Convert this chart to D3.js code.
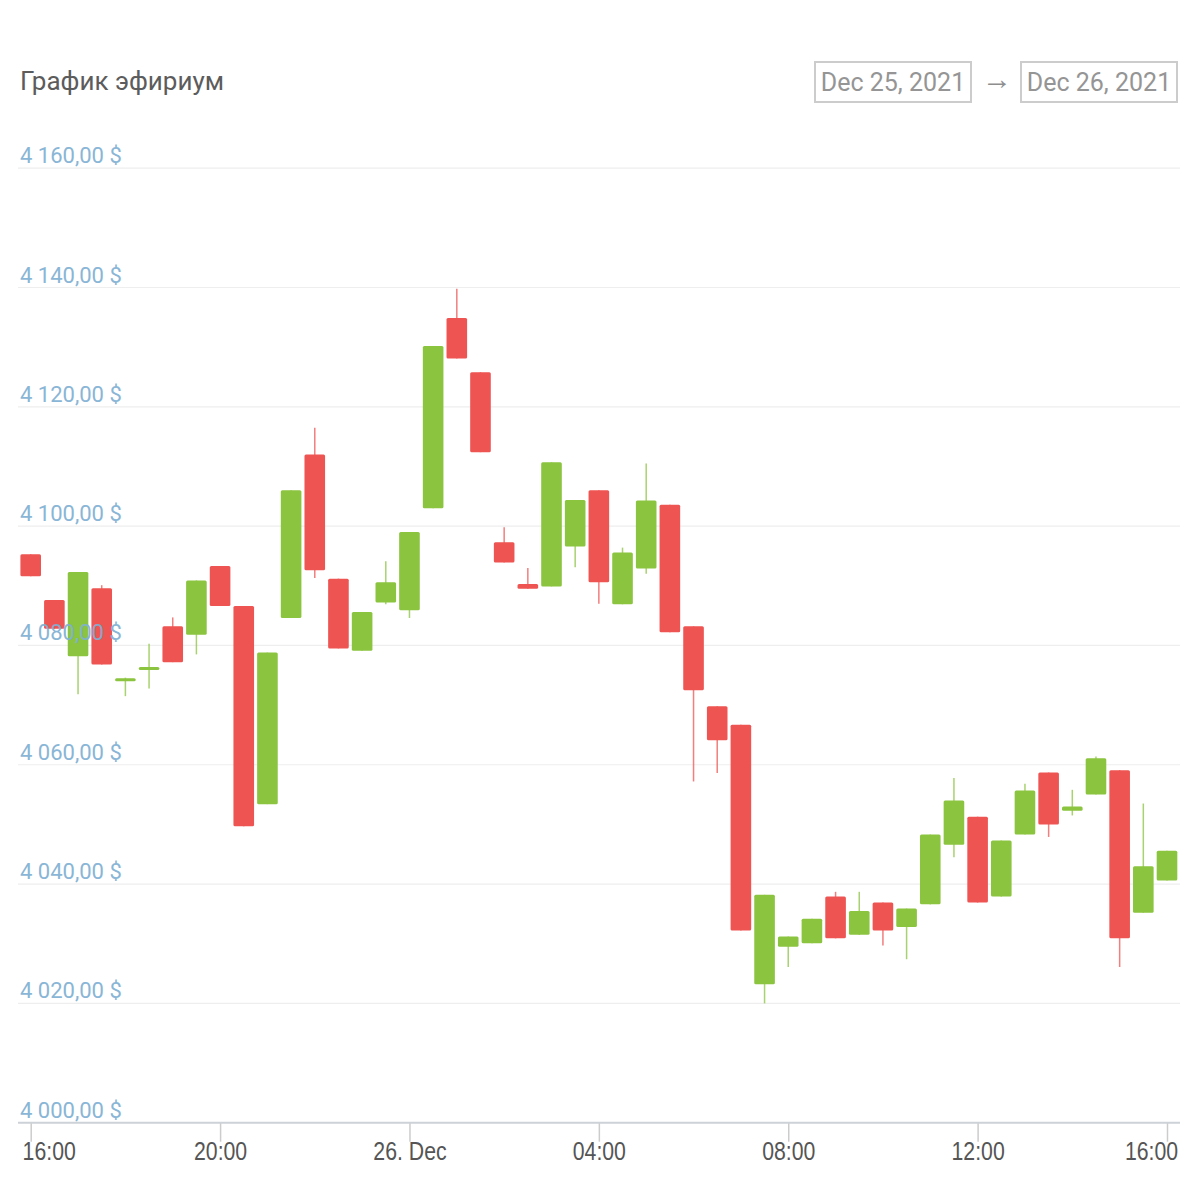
<!DOCTYPE html>
<html>
<head>
<meta charset="utf-8">
<script src="https://cdn.jsdelivr.net/npm/d3@7"></script>
<style>
  html, body { margin: 0; padding: 0; background: #ffffff; }
  svg { display: block; font-family: Roboto, "Noto Sans", sans-serif; }
</style>
</head>
<body>
<svg id="chart" width="1200" height="1200"></svg>
<script>
// ---- data (30-minute candles, Dec 25 16:00 -> Dec 26 16:00), prices in USD ----
const openVals  = [4095.3,4087.6,4078.2,4089.6,4074.0,4075.9,4083.2,4081.8,4093.3,4086.6,
                   4053.4,4084.6,4112.0,4091.2,4079.1,4087.2,4085.9,4103.0,4134.9,4125.8,
                   4097.3,4090.3,4089.9,4096.6,4106.0,4086.9,4092.9,4103.6,4083.2,4069.8,
                   4066.7,4023.2,4029.5,4030.1,4037.9,4031.5,4036.9,4032.8,4036.6,4046.6,
                   4051.3,4037.9,4048.3,4058.7,4052.3,4055.0,4059.1,4035.2,4040.6];
const closeVals = [4091.6,4082.8,4092.3,4076.8,4074.5,4076.4,4077.2,4090.9,4086.6,4049.7,
                   4078.8,4106.0,4092.6,4079.5,4085.6,4090.6,4099.0,4130.2,4128.1,4112.4,
                   4093.9,4089.5,4110.7,4104.4,4090.6,4095.6,4104.3,4082.2,4072.5,4064.1,
                   4032.2,4038.2,4031.2,4034.2,4030.9,4035.5,4032.2,4035.9,4048.3,4054.0,
                   4036.9,4047.3,4055.7,4050.0,4053.0,4061.1,4030.9,4043.0,4045.6];
const highVals  = [4095.3,4087.6,4092.3,4090.1,4074.6,4080.3,4084.7,4090.9,4093.3,4086.6,
                   4078.8,4106.0,4116.5,4091.2,4085.6,4094.1,4099.0,4130.2,4139.8,4125.8,
                   4099.8,4093.0,4110.7,4104.4,4106.0,4096.4,4110.5,4103.6,4083.2,4069.8,
                   4066.7,4038.2,4031.2,4034.2,4038.7,4038.7,4036.9,4035.9,4048.3,4057.8,
                   4051.3,4047.3,4056.8,4058.7,4055.8,4061.4,4059.1,4053.5,4045.6];
const lowVals   = [4091.6,4082.8,4071.8,4076.8,4071.5,4072.8,4077.2,4078.5,4086.6,4049.7,
                   4053.4,4084.6,4091.3,4079.5,4079.1,4086.9,4084.6,4103.0,4128.1,4112.4,
                   4093.9,4089.5,4089.9,4093.1,4087.0,4086.9,4092.0,4082.2,4057.2,4058.6,
                   4032.2,4020.0,4026.1,4030.1,4030.9,4031.5,4029.7,4027.4,4036.6,4044.5,
                   4036.9,4037.9,4048.3,4047.9,4051.5,4055.0,4026.1,4035.2,4040.6];

const yTickValues = [4000, 4020, 4040, 4060, 4080, 4100, 4120, 4140, 4160];
const yTickLabels = ["4 000,00 $","4 020,00 $","4 040,00 $","4 060,00 $","4 080,00 $",
                     "4 100,00 $","4 120,00 $","4 140,00 $","4 160,00 $"];
const xTickHours  = [0, 4, 8, 12, 16, 20, 24];   // hours after Dec 25 16:00
const xTickLabels = ["16:00","20:00","26. Dec","04:00","08:00","12:00","16:00"];
const titleText = "График эфириум";
const dateFrom = "Dec 25, 2021";
const dateTo = "Dec 26, 2021";

// ---- layout ----
const svg = d3.select("#chart");
const start = new Date(2021, 11, 25, 16, 0);
const end = new Date(2021, 11, 26, 16, 0);
const x = d3.scaleTime().domain([start, end]).range([30.7, 1167]);
const y = d3.scaleLinear().domain([4000, 4160]).range([1122.7, 168.2]);
const times = openVals.map((_, i) => new Date(start.getTime() + i * 30 * 60000));
const candles = times.map((t, i) => ({t, o: openVals[i], c: closeVals[i], h: highVals[i], l: lowVals[i]}));
const RED = "#EE5452", GREEN = "#8BC43F";
const bw = 20.6;

// title
svg.append("text").attr("x", 20).attr("y", 90)
  .attr("font-size", 26).attr("fill", "#5c5c5c").text(titleText);

// date boxes
const boxes = [{x0: 815, x1: 971, t: dateFrom}, {x0: 1021, x1: 1177, t: dateTo}];
boxes.forEach(b => {
  svg.append("rect").attr("x", b.x0).attr("y", 62).attr("width", b.x1 - b.x0).attr("height", 40)
    .attr("fill", "#fff").attr("stroke", "#cccccc").attr("stroke-width", 2);
  svg.append("text").attr("x", (b.x0 + b.x1) / 2).attr("y", 91).attr("text-anchor", "middle")
    .attr("font-size", 25).attr("fill", "#959595").text(b.t);
});
svg.append("text").attr("x", 997).attr("y", 89).attr("text-anchor", "middle")
  .attr("font-size", 30).attr("fill", "#8e8e8e").text("→");

// gridlines
svg.append("g").selectAll("line").data(yTickValues.filter(v => v > 4000)).join("line")
  .attr("x1", 18).attr("x2", 1180)
  .attr("y1", d => y(d)).attr("y2", d => y(d))
  .attr("stroke", "#eeeeee").attr("stroke-width", 1.2);

// x axis
const xAxis = d3.axisBottom(x)
  .tickValues(xTickHours.map(h => new Date(start.getTime() + h * 3600000)))
  .tickSize(19).tickPadding(4)
  .tickFormat((d, i) => xTickLabels[i]);
const gx = svg.append("g").attr("transform", `translate(0,${y(4000)})`).call(xAxis);
gx.select(".domain").remove();
gx.selectAll(".tick line").attr("stroke", "#cccccc").attr("stroke-width", 1.5);
gx.selectAll(".tick text").each(function(d, i) {
  let cx = 0;
  if (i === 0) cx = 18;
  if (i === xTickLabels.length - 1) cx = -16;
  d3.select(this)
    .attr("font-size", 25).attr("fill", "#555555")
    .attr("x", 0).attr("y", 37.5).attr("dy", 0)
    .attr("transform", `translate(${cx},0) scale(0.85,1)`);
});
svg.append("line").attr("x1", 18).attr("x2", 1180).attr("y1", y(4000)).attr("y2", y(4000))
  .attr("stroke", "#ccd2d8").attr("stroke-width", 2);

// candles
const gc = svg.append("g");
gc.selectAll("line.wick").data(candles).join("line").attr("class", "wick")
  .attr("x1", d => x(d.t)).attr("x2", d => x(d.t))
  .attr("y1", d => y(d.h)).attr("y2", d => y(d.l))
  .attr("stroke", d => d.c >= d.o ? GREEN : RED).attr("stroke-width", 1.5).attr("opacity", 0.75);
gc.selectAll("rect.body").data(candles).join("rect").attr("class", "body")
  .attr("x", d => x(d.t) - bw / 2).attr("width", bw)
  .attr("y", d => y(Math.max(d.o, d.c)))
  .attr("height", d => Math.max(3, Math.abs(y(d.o) - y(d.c))))
  .attr("rx", 1.5)
  .attr("fill", d => d.c >= d.o ? GREEN : RED);

// y labels (drawn over the plot)
svg.append("g").selectAll("text").data(yTickValues).join("text")
  .attr("x", 20).attr("y", d => y(d) - 5)
  .attr("font-size", 22).attr("fill", "#7fb0d3").attr("opacity", 0.92)
  .text((d, i) => yTickLabels[i]);
</script>
</body>
</html>
